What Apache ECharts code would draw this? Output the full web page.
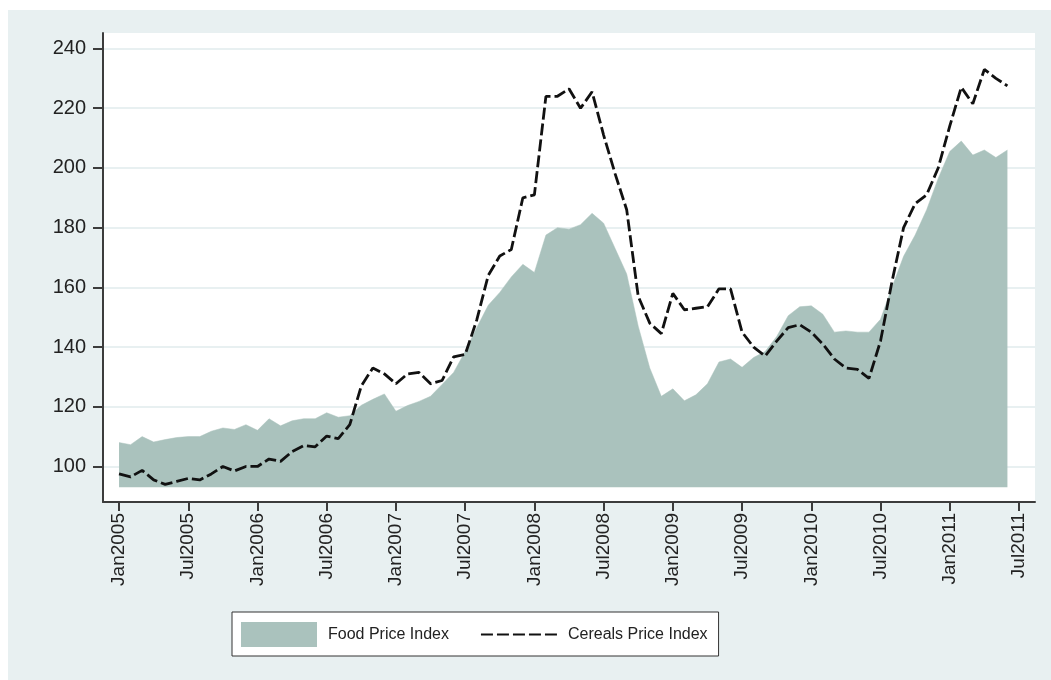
<!DOCTYPE html>
<html>
<head>
<meta charset="utf-8">
<script src="https://cdn.jsdelivr.net/npm/echarts@6/dist/echarts.min.js"></script>
<style>
  html, body { margin: 0; padding: 0; background: #fff; }
  #chart { width: 1051px; height: 680px; }
</style>
</head>
<body>
<div id="chart"></div>
<script>
// months since Jan2005 where the x ticks sit
const tickMonths = [0, 6, 12, 18, 24, 30, 36, 42, 48, 54, 60, 66, 72, 78];
const tickLabels = ["Jan2005", "Jul2005", "Jan2006", "Jul2006", "Jan2007", "Jul2007", "Jan2008",
  "Jul2008", "Jan2009", "Jul2009", "Jan2010", "Jul2010", "Jan2011", "Jul2011"];
const yTicks = [100, 120, 140, 160, 180, 200, 220, 240];

// monthly values, Jan2005 .. Jun2011
const foodIndex = [
  108, 107.3, 110, 108.2, 109, 109.7, 110, 110, 111.8, 112.9, 112.4, 114,
  112.1, 116, 113.6, 115.3, 116, 116, 118, 116.5, 117, 120.5, 122.5, 124.3,
  118.5, 120.4, 121.8, 123.5, 127.5, 131.5, 138.5, 146.5, 154, 158.3, 163.5, 167.7,
  165, 177.5, 180, 179.5, 181, 184.8, 181.5, 173, 164.5, 147, 133, 123.5,
  126, 122, 124, 127.7, 135, 136, 133.2, 136.5, 138.5, 143.5, 150.5, 153.5,
  153.8, 151, 145, 145.4, 145, 145, 149.3, 160, 170.4, 177.5, 186, 196.5,
  205.5, 209, 204.3, 206, 203.5, 206
];
const cerealsIndex = [
  97.5, 96.5, 98.7, 95.5, 94, 95, 96, 95.5, 97.5, 100, 98.5, 100,
  100, 102.5, 101.7, 105, 107, 106.6, 110.2, 109.3, 114, 127, 133, 131,
  127.7, 131, 131.5, 127.7, 128.8, 136.7, 137.5, 149, 164, 170.5, 172.7, 190,
  191, 224, 224, 226.5, 220, 225.5, 211, 198, 186, 157, 148, 144.5,
  158, 152.5, 153, 153.5, 159.5, 159.5, 145, 140, 137, 142, 146.5, 147.5,
  145, 141, 136, 133, 132.5, 129.5, 142, 162, 180, 188, 191, 200,
  214, 227, 221.5, 233, 230, 227.5
];

const chart = echarts.init(document.getElementById("chart"));

const option = {
  animation: false,
  textStyle: { fontFamily: "Liberation Sans, Arial, sans-serif" },
  graphic: [
    {
      type: "rect",
      z: -10,
      shape: { x: 8, y: 10, width: 1043, height: 670 },
      style: { fill: "#e8f0f1" }
    }
  ],
  grid: {
    left: 103,
    right: 16,
    top: 33,
    bottom: 178,
    show: true,
    backgroundColor: "#fff",
    borderWidth: 0
  },
  xAxis: {
    type: "value",
    min: -1.39,
    max: 79.39,
    axisLine: { onZero: false, lineStyle: { color: "#3c3c3c", width: 2 } },
    axisTick: { customValues: tickMonths, length: 9, lineStyle: { color: "#3c3c3c", width: 2 } },
    axisLabel: {
      customValues: tickMonths,
      rotate: 90,
      margin: 11,
      fontSize: 19,
      color: "#222",
      formatter: (v) => tickLabels[tickMonths.indexOf(v)]
    },
    splitLine: { show: false }
  },
  yAxis: {
    type: "value",
    min: 88.1,
    max: 245.2,
    axisLine: { show: true, onZero: false, lineStyle: { color: "#3c3c3c", width: 2 } },
    axisTick: { show: true, customValues: yTicks, length: 10, lineStyle: { color: "#3c3c3c", width: 2 } },
    axisLabel: { customValues: yTicks, margin: 17, fontSize: 20, color: "#222" },
    splitLine: { show: true, lineStyle: { color: "#e8f0f1", width: 2 } }
  },
  legend: {
    left: 232,
    top: 612,
    orient: "horizontal",
    backgroundColor: "#fff",
    borderColor: "#333",
    borderWidth: 1,
    borderRadius: 0,
    padding: [10, 11, 9, 9],
    itemWidth: 76,
    itemHeight: 25,
    itemGap: 31,
    textStyle: { fontSize: 16, color: "#222", padding: [0, 0, 0, 6] },
    data: [
      { name: "Food Price Index", icon: "rect" },
      {
        name: "Cereals Price Index",
        itemStyle: { color: "rgba(0,0,0,0)", borderColor: "rgba(0,0,0,0)", borderWidth: 0, opacity: 0 }
      }
    ]
  },
  series: [
    {
      name: "Food Price Index",
      type: "line",
      symbol: "none",
      z: 2,
      data: foodIndex.map((v, i) => [i, v]),
      itemStyle: { color: "#aac2bd" },
      lineStyle: { width: 0.5, color: "#aac2bd" },
      areaStyle: { color: "#aac2bd", opacity: 1, origin: 93 }
    },
    {
      name: "Cereals Price Index",
      type: "line",
      symbol: "none",
      z: 3,
      data: cerealsIndex.map((v, i) => [i, v]),
      itemStyle: { color: "#111" },
      lineStyle: { color: "#111", width: 2.8, type: [12, 4] }
    }
  ]
};

chart.setOption(option);
</script>
</body>
</html>
